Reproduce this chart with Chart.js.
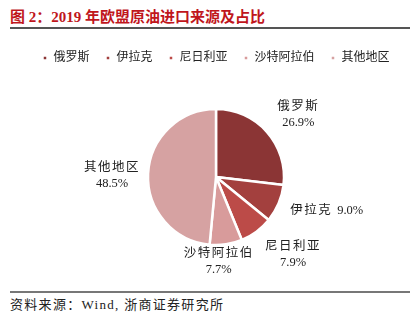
<!DOCTYPE html>
<html>
<head>
<meta charset="utf-8">
<script src="https://cdn.jsdelivr.net/npm/chart.js@4/dist/chart.umd.min.js"></script>
<style>
  body { margin: 0; width: 414px; height: 322px; background: #fff; position: relative; overflow: hidden;
         font-family: "Liberation Serif", "Noto Sans CJK SC", serif; }
  #title { position: absolute; left: 10px; top: 5px; font-size: 15px; font-weight: bold; color: #c0161c; }
  #topLine { position: absolute; left: 10px; top: 27px; width: 400px; height: 2px; background: #555; }
  #wrap { position: absolute; left: 0; top: 36px; width: 414px; height: 250px; }
  #botLine { position: absolute; left: 10px; top: 291px; width: 400px; height: 2px; background: #777; }
  #source { position: absolute; left: 10px; top: 294px; font-size: 13px; letter-spacing: 1.3px; color: #222; }
</style>
</head>
<body>
<div id="title">图 2：2019 年欧盟原油进口来源及占比</div>
<div id="topLine"></div>
<div id="wrap"><canvas id="pieChart"></canvas></div>
<div id="botLine"></div>
<div id="source">资料来源：Wind, 浙商证券研究所</div>
<script>
// data
const regions = ["俄罗斯", "伊拉克", "尼日利亚", "沙特阿拉伯", "其他地区"];
const shares = [26.9, 9.0, 7.9, 7.7, 48.5];
const sliceColors = ["#8b3535", "#a3403e", "#bc4b48", "#d89b9b", "#d6a2a2"];

const FONT = '"Liberation Serif", "Noto Sans CJK SC", serif';

// label placement: radial distance from pie centre + small nudges (x, y)
const labelTweaks = [
  { dist: 34, dx: 6, dy: 5, oneLine: false },
  { dist: 48, dx: 4, dy: -12, oneLine: true },
  { dist: 38, dx: 14, dy: -7, oneLine: false },
  { dist: 18, dx: -10, dy: 0, oneLine: false },
  { dist: 36, dx: 0, dy: 4, oneLine: false }
];

const sliceLabels = {
  id: 'sliceLabels',
  afterDatasetsDraw(chart) {
    const ctx = chart.ctx;
    const meta = chart.getDatasetMeta(0);
    ctx.save();
    ctx.fillStyle = '#222';
    ctx.font = '12.5px ' + FONT;
    ctx.textBaseline = 'middle';
    meta.data.forEach((arc, i) => {
      const p = arc.getProps(['x', 'y', 'startAngle', 'endAngle', 'outerRadius']);
      const mid = (p.startAngle + p.endAngle) / 2;
      const t = labelTweaks[i];
      const r = p.outerRadius + t.dist;
      const x = p.x + Math.cos(mid) * r + t.dx;
      const y = p.y + Math.sin(mid) * r + t.dy;
      const pct = shares[i].toFixed(1) + '%';
      ctx.letterSpacing = '1.5px';
      const nameW = ctx.measureText(regions[i]).width;
      ctx.letterSpacing = '0px';
      const pctW = ctx.measureText(pct).width;
      ctx.textAlign = 'left';
      if (t.oneLine) {
        const x0 = x - (nameW + 5 + pctW) / 2;
        ctx.letterSpacing = '1.5px';
        ctx.fillText(regions[i], x0, y);
        ctx.letterSpacing = '0px';
        ctx.fillText(pct, x0 + nameW + 5, y);
      } else {
        ctx.letterSpacing = '1.5px';
        ctx.fillText(regions[i], x - nameW / 2, y - 8);
        ctx.letterSpacing = '0px';
        ctx.fillText(pct, x - pctW / 2, y + 8);
      }
    });
    ctx.restore();
  }
};

new Chart(document.getElementById('pieChart'), {
  type: 'pie',
  data: {
    labels: regions,
    datasets: [{
      data: shares,
      backgroundColor: sliceColors,
      borderColor: '#fff',
      borderWidth: 2.5,
      radius: 68
    }]
  },
  options: {
    responsive: true,
    maintainAspectRatio: false,
    animation: false,
    layout: { padding: { left: 18, right: 0, top: 0, bottom: 6 } },
    plugins: {
      legend: {
        position: 'top',
        labels: {
          boxWidth: 5,
          boxHeight: 5,
          padding: 16,
          color: '#222',
          font: { family: FONT, size: 12 }
        }
      },
      tooltip: { enabled: false }
    }
  },
  plugins: [sliceLabels]
});
</script>
</body>
</html>
